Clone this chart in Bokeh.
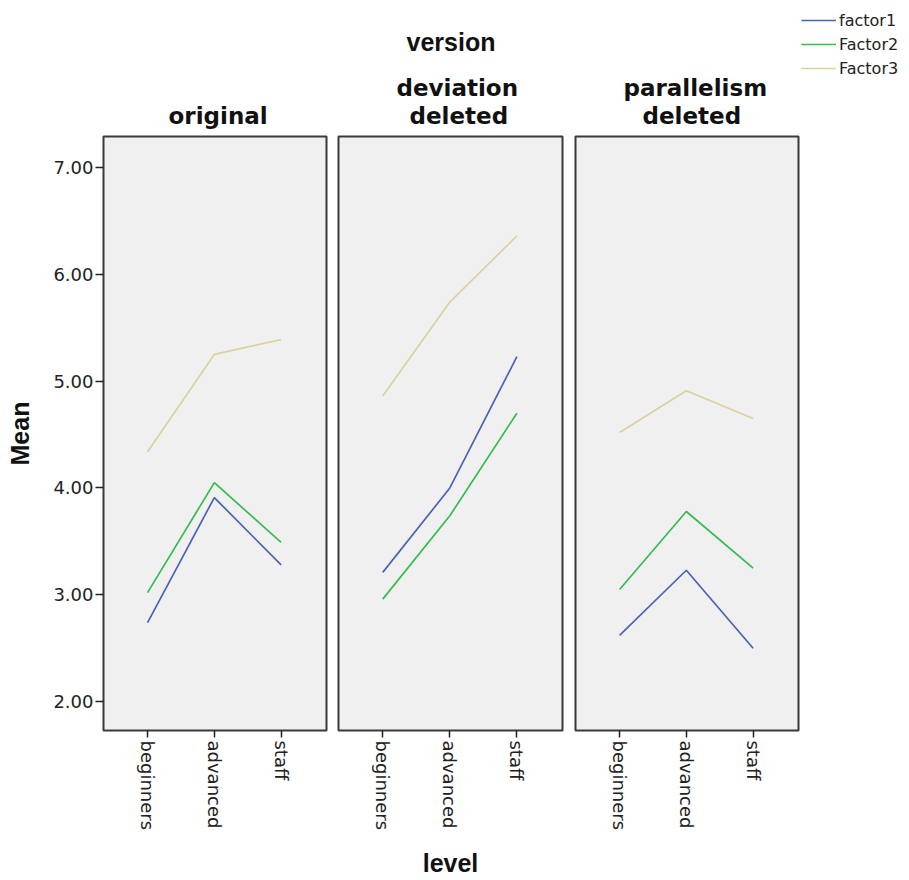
import math
from bokeh.plotting import figure
from bokeh.models import Range1d, FixedTicker, NumeralTickFormatter, Title, Legend, LegendItem
from bokeh.layouts import row
from bokeh.embed import file_html
from bokeh.resources import INLINE

# ---- data ----
levels = ["beginners", "advanced", "staff"]
level_pos = [0, 1, 2]
y_ticks = [2, 3, 4, 5, 6, 7]
series_names = ["factor1", "Factor2", "Factor3"]
series_colors = ["#4A62B8", "#34BC4E", "#D7D29E"]

f1_original = [2.74, 3.91, 3.28]
f2_original = [3.02, 4.05, 3.49]
f3_original = [4.34, 5.25, 5.39]

f1_deviation = [3.21, 4.00, 5.23]
f2_deviation = [2.96, 3.74, 4.70]
f3_deviation = [4.86, 5.74, 6.36]

f1_parallelism = [2.62, 3.23, 2.50]
f2_parallelism = [3.05, 3.78, 3.25]
f3_parallelism = [4.52, 4.91, 4.65]

TICK_FONT = "DejaVu Sans"
TITLE_FONT = "DejaVu Sans"
LABEL_FONT = "Liberation Sans"
H = 880
TOP = 136
BOTTOM = 145


def make_fig(width, left, right, has_y):
    p = figure(width=width, height=H, title=None,
               x_range=Range1d(-0.66, 2.68), y_range=Range1d(1.73, 7.29),
               output_backend="svg", toolbar_location=None,
               min_border_left=left, min_border_right=right,
               min_border_top=TOP, min_border_bottom=BOTTOM,
               y_axis_location="left" if has_y else None)
    p.background_fill_color = "#F0F0F0"
    p.border_fill_color = "white"
    p.outline_line_color = "#3A3A3A"
    p.outline_line_width = 2
    p.xgrid.visible = False
    p.ygrid.visible = False
    ax = p.xaxis[0]
    ax.ticker = FixedTicker(ticks=level_pos)
    ax.major_label_overrides = {pos: lab for pos, lab in zip(level_pos, levels)}
    ax.major_label_orientation = -math.pi / 2
    ax.axis_line_color = None
    ax.major_tick_in = 0
    ax.major_tick_out = 7
    ax.major_tick_line_color = "#222222"
    ax.major_tick_line_width = 1.5
    ax.minor_tick_line_color = None
    ax.major_label_text_font = TICK_FONT
    ax.major_label_text_font_size = "18px"
    ax.major_label_text_color = "#222222"
    ax.major_label_standoff = 3
    ax.axis_label_text_font = LABEL_FONT
    ax.axis_label_text_font_size = "25px"
    ax.axis_label_text_font_style = "bold"
    ax.axis_label_text_color = "#111111"
    if has_y:
        ay = p.yaxis[0]
        ay.ticker = FixedTicker(ticks=y_ticks)
        ay.formatter = NumeralTickFormatter(format="0.00")
        ay.axis_line_color = None
        ay.major_tick_in = 0
        ay.major_tick_out = 8
        ay.major_tick_line_color = "#222222"
        ay.major_tick_line_width = 1.5
        ay.minor_tick_line_color = None
        ay.major_label_text_font = TICK_FONT
        ay.major_label_text_font_size = "18px"
        ay.major_label_text_color = "#222222"
        ay.major_label_standoff = 2
        ay.axis_label = "Mean"
        ay.axis_label_text_font = LABEL_FONT
        ay.axis_label_text_font_size = "25px"
        ay.axis_label_text_font_style = "bold"
        ay.axis_label_text_color = "#111111"
        ay.axis_label_standoff = 16
    return p


def add_title(p, text, offset, standoff, font, size):
    p.add_layout(Title(text=text, align="left", offset=offset, standoff=standoff,
                       text_font=font, text_font_size=size, text_font_style="bold",
                       text_color="#111111"), "above")


p1 = make_fig(332, 103, 6, True)
p2 = make_fig(236, 6, 6, False)
p3 = make_fig(233, 7, 3, False)

p2.xaxis[0].axis_label = "level"
p2.xaxis[0].axis_label_standoff = 16

panel_data = [
    (p1, [f1_original, f2_original, f3_original]),
    (p2, [f1_deviation, f2_deviation, f3_deviation]),
    (p3, [f1_parallelism, f2_parallelism, f3_parallelism]),
]
for p, series in panel_data:
    for vals, col in zip(series, series_colors):
        p.line(level_pos, vals, line_color=col, line_width=1.7)

# panel titles (first added sits closest to the frame)
add_title(p1, "original", 65, 16, TITLE_FONT, "23px")
add_title(p2, "deleted", 71, 16, TITLE_FONT, "23px")
add_title(p2, "deviation", 58, -16, TITLE_FONT, "23px")
add_title(p2, "version", 68, 49, LABEL_FONT, "25px")
add_title(p3, "deleted", 67, 16, TITLE_FONT, "23px")
add_title(p3, "parallelism", 48, -16, TITLE_FONT, "23px")

# legend column on the right
p4 = figure(width=107, height=H, title=None, x_range=Range1d(0, 1), y_range=Range1d(0, 1),
            output_backend="svg", toolbar_location=None,
            x_axis_location=None, y_axis_location=None,
            min_border_left=0, min_border_right=0, min_border_top=10, min_border_bottom=0)
if "frame_align" in p4.properties():
    p4.frame_align = False
p4.outline_line_color = None
p4.background_fill_color = "white"
p4.border_fill_color = "white"
p4.xgrid.visible = False
p4.ygrid.visible = False
nan = float("nan")
proxies = [p4.line(x=[nan], y=[nan], line_color=c, line_width=1.7) for c in series_colors]
legend = Legend(
    items=[LegendItem(label=n, renderers=[r]) for n, r in zip(series_names, proxies)],
    location="top_left", orientation="vertical",
    border_line_color=None, background_fill_alpha=0,
    padding=0, margin=0, spacing=4,
    glyph_width=35, glyph_height=20, label_height=20, label_standoff=3,
    label_text_font=TICK_FONT, label_text_font_size="16px", label_text_color="#222222",
)
p4.add_layout(legend, "center")

layout = row(p1, p2, p3, p4)
open("out.html", "w").write(file_html(layout, INLINE))
